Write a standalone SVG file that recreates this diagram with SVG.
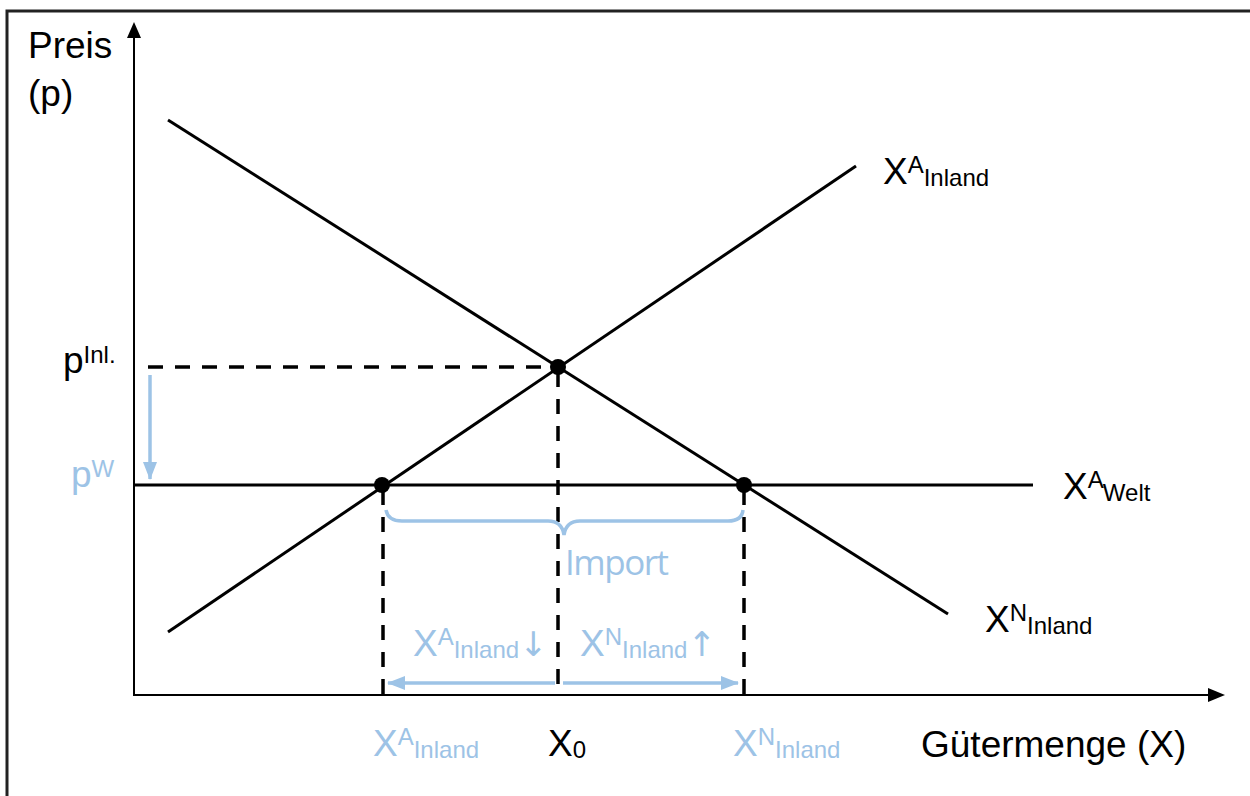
<svg xmlns="http://www.w3.org/2000/svg" width="1250" height="796" viewBox="0 0 1250 796">
<defs>
<style>
.t{font-family:"Liberation Sans",Arial,sans-serif;font-size:37px;fill:#000}
.b{fill:#9DC3E6}
.s{font-size:24px}
.ar{font-family:"DejaVu Sans",sans-serif;font-size:34px}
.ln{stroke:#000;stroke-width:3;fill:none}
.ax{stroke:#000;stroke-width:2;fill:none}
.ds{stroke:#000;stroke-width:3.5;stroke-dasharray:15 12;fill:none}
.bl{stroke:#9DC3E6;stroke-width:3.5;fill:none}
</style>
<marker id="bh" markerWidth="18" markerHeight="14" refX="17" refY="7" orient="auto" markerUnits="userSpaceOnUse" viewBox="0 0 18 14"><path d="M0,0 L18,7 L0,14 z" fill="#9DC3E6"/></marker>
</defs>
<rect width="1250" height="796" fill="#fff"/>
<path d="M7,800 L7,11 L1260,11" stroke="#222" stroke-width="3" fill="none"/>
<g id="axes">
<line class="ax" x1="134" y1="696" x2="134" y2="30"/>
<path d="M127,38 L134,22 L141,38 z" fill="#000"/>
<line class="ax" x1="133" y1="695" x2="1212" y2="695"/>
<path d="M1208,688 L1225,695 L1208,702 z" fill="#000"/>
</g>
<g id="connectors">
<line id="demand" class="ln" x1="168" y1="120" x2="948" y2="614"/>
<line id="supply" class="ln" x1="168" y1="632" x2="856" y2="166"/>
<line id="world" class="ln" x1="134" y1="485" x2="1033" y2="485"/>
<line class="ds" x1="148" y1="367" x2="558" y2="367"/>
<line class="ds" x1="558" y1="372" x2="558" y2="695"/>
<line class="ds" x1="383" y1="490" x2="383" y2="695"/>
<line class="ds" x1="744" y1="490" x2="744" y2="695"/>
<line class="bl" x1="150" y1="375" x2="150" y2="479" marker-end="url(#bh)"/>
<line class="bl" x1="555" y1="683" x2="388" y2="683" marker-end="url(#bh)"/>
<line class="bl" x1="563" y1="683" x2="738" y2="683" marker-end="url(#bh)"/>
<path class="bl" d="M386,510 Q388,521 402,521 L548,521 Q562,521 564,535 Q566,521 580,521 L728,521 Q742,521 743,510"/>
</g>
<g id="points">
<circle cx="558" cy="367" r="8"/>
<circle cx="382" cy="485" r="8"/>
<circle cx="744" cy="485" r="8"/>
</g>
<g id="labels">
<text class="t" x="28" y="58">Preis</text>
<text class="t" x="28" y="106">(p)</text>
<text class="t" x="63" y="373">p<tspan class="s" dy="-10">Inl.</tspan></text>
<text class="t b" x="71" y="487">p<tspan class="s" dy="-10">W</tspan></text>
<text class="t" x="883" y="184">X<tspan class="s" dy="-11">A</tspan><tspan class="s" dy="13">Inland</tspan></text>
<text class="t" x="1063" y="499">X<tspan class="s" dy="-11">A</tspan><tspan class="s" dy="13">Welt</tspan></text>
<text class="t" x="985" y="632">X<tspan class="s" dy="-11">N</tspan><tspan class="s" dy="13">Inland</tspan></text>
<text x="565" y="575" style="font-family:'Open Sans','Liberation Sans',sans-serif;font-size:35px;fill:#9DC3E6" textLength="104">Import</text>
<text class="t b" x="413" y="656">X<tspan class="s" dy="-11">A</tspan><tspan class="s" dy="13">Inland</tspan><tspan class="ar" dy="-2">↓</tspan></text>
<text class="t b" x="580" y="656">X<tspan class="s" dy="-11">N</tspan><tspan class="s" dy="13">Inland</tspan><tspan class="ar" dy="-2">↑</tspan></text>
<text class="t b" x="373" y="756">X<tspan class="s" dy="-11">A</tspan><tspan class="s" dy="13">Inland</tspan></text>
<text class="t" x="548" y="756">X<tspan class="s" dy="2">0</tspan></text>
<text class="t b" x="733" y="756">X<tspan class="s" dy="-11">N</tspan><tspan class="s" dy="13">Inland</tspan></text>
<text class="t" x="921" y="757">Gütermenge (X)</text>
</g>
</svg>
